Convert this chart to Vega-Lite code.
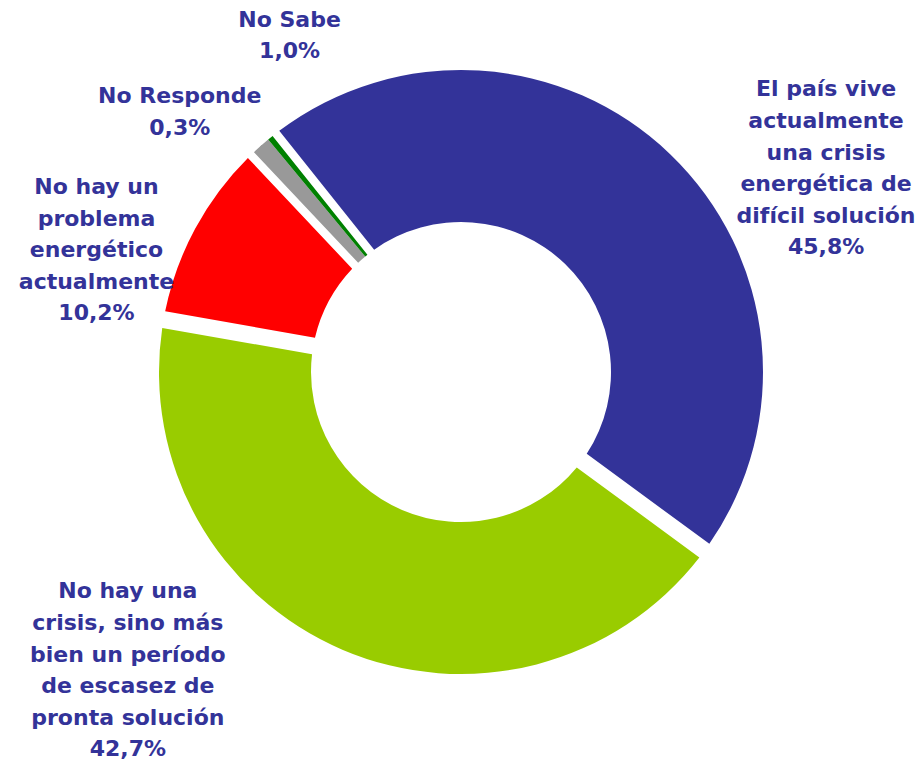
{
  "$schema": "https://vega.github.io/schema/vega-lite/v6.json",
  "width": 914,
  "height": 744,
  "autosize": {"type": "none"},
  "padding": {"left": 4, "right": 0, "top": 0, "bottom": 17},
  "background": "white",
  "config": {"view": {"stroke": null}},
  "data": {
    "values": [
      {"idx": 1, "cat": "El país vive actualmente una crisis energética de difícil solución", "value": 45.8, "label": "El país vive\nactualmente\nuna crisis\nenergética de\ndifícil solución\n45,8%"},
      {"idx": 2, "cat": "No hay una crisis, sino más bien un período de escasez de pronta solución", "value": 42.7, "label": "No hay una\ncrisis, sino más\nbien un período\nde escasez de\npronta solución\n42,7%"},
      {"idx": 3, "cat": "No hay un problema energético actualmente", "value": 10.2, "label": "No hay un\nproblema\nenergético\nactualmente\n10,2%"},
      {"idx": 4, "cat": "No Sabe", "value": 1.0, "label": "No Sabe\n1,0%"},
      {"idx": 5, "cat": "No Responde", "value": 0.3, "label": "No Responde\n0,3%"}
    ]
  },
  "encoding": {
    "theta": {"field": "value", "type": "quantitative", "stack": true, "scale": {"domain": [0, 100], "range": [-0.6737, 5.6095]}},
    "order": {"field": "idx", "type": "quantitative"}
  },
  "layer": [
    {
      "mark": {"type": "arc", "innerRadius": 150, "outerRadius": 302, "padAngle": 0.05},
      "encoding": {
        "color": {"field": "cat", "type": "nominal", "legend": null,
          "scale": {"domain": ["El país vive actualmente una crisis energética de difícil solución", "No hay una crisis, sino más bien un período de escasez de pronta solución", "No hay un problema energético actualmente", "No Sabe", "No Responde"],
                    "range": ["#333399", "#99CC00", "#FF0000", "#999999", "#008000"]}}
      }
    },
    {
      "mark": {"type": "arc", "innerRadius": 150, "outerRadius": 302},
      "encoding": {
        "color": {"field": "cat", "type": "nominal", "legend": null},
        "opacity": {"condition": {"test": "datum.value < 2", "value": 1}, "value": 0}
      }
    },
    {
      "mark": {"type": "text", "radius": 400, "dx": 88, "dy": 6, "font": "DejaVu Sans", "fontWeight": "bold", "fontSize": 22, "lineHeight": 31.6, "color": "#333399", "align": "center", "baseline": "middle", "lineBreak": "\n"},
      "encoding": {"text": {"field": "label", "type": "nominal"}, "opacity": {"condition": {"test": "datum.idx === 1", "value": 1}, "value": 0}}
    },
    {
      "mark": {"type": "text", "radius": 405, "dx": -174, "dy": -153, "font": "DejaVu Sans", "fontWeight": "bold", "fontSize": 22, "lineHeight": 31.6, "color": "#333399", "align": "center", "baseline": "middle", "lineBreak": "\n"},
      "encoding": {"text": {"field": "label", "type": "nominal"}, "opacity": {"condition": {"test": "datum.idx === 2", "value": 1}, "value": 0}}
    },
    {
      "mark": {"type": "text", "radius": 379, "dx": -31, "dy": -5, "font": "DejaVu Sans", "fontWeight": "bold", "fontSize": 22, "lineHeight": 31.6, "color": "#333399", "align": "center", "baseline": "middle", "lineBreak": "\n"},
      "encoding": {"text": {"field": "label", "type": "nominal"}, "opacity": {"condition": {"test": "datum.idx === 3", "value": 1}, "value": 0}}
    },
    {
      "mark": {"type": "text", "radius": 366, "dx": 71, "dy": -78, "font": "DejaVu Sans", "fontWeight": "bold", "fontSize": 22, "lineHeight": 31.6, "color": "#333399", "align": "center", "baseline": "middle", "lineBreak": "\n"},
      "encoding": {"text": {"field": "label", "type": "nominal"}, "opacity": {"condition": {"test": "datum.idx === 4", "value": 1}, "value": 0}}
    },
    {
      "mark": {"type": "text", "radius": 379, "dx": -42, "dy": 18, "font": "DejaVu Sans", "fontWeight": "bold", "fontSize": 22, "lineHeight": 31.6, "color": "#333399", "align": "center", "baseline": "middle", "lineBreak": "\n"},
      "encoding": {"text": {"field": "label", "type": "nominal"}, "opacity": {"condition": {"test": "datum.idx === 5", "value": 1}, "value": 0}}
    }
  ]
}
